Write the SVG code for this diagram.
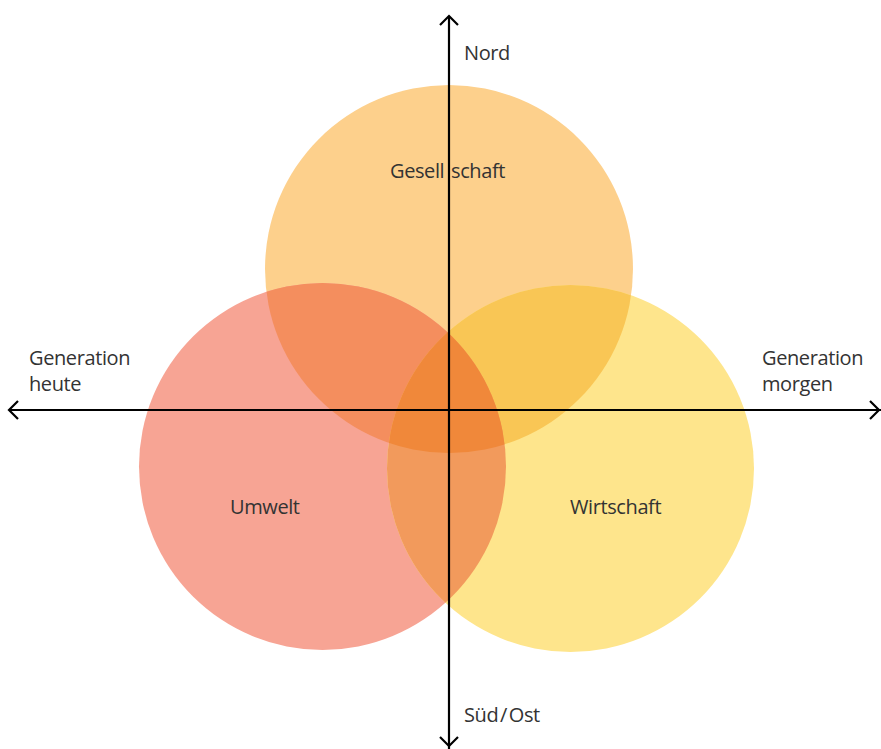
<svg xmlns="http://www.w3.org/2000/svg" width="881" height="749" viewBox="0 0 881 749">
<style>
text{font-family:"Open Sans","Noto Sans","Liberation Sans",sans-serif;font-size:20px;fill:#333;letter-spacing:-0.4px;}
.ax{stroke:#000;stroke-width:2.2;fill:none;}
</style>
<defs>
<clipPath id="cT"><circle cx="449" cy="269" r="184"/></clipPath>
<clipPath id="cL"><circle cx="322.5" cy="466.5" r="183.5"/></clipPath>
<clipPath id="cR"><circle cx="570.5" cy="468.5" r="183.5"/></clipPath>
</defs>
<rect width="881" height="749" fill="#fff"/>
<g id="gesellschaft">
<circle cx="449" cy="269" r="184" fill="#FDD08C"/>
</g>
<g id="umwelt">
<circle cx="322.5" cy="466.5" r="183.5" fill="#F7A494"/>
</g>
<g id="wirtschaft">
<circle cx="570.5" cy="468.5" r="183.5" fill="#FEE58C"/>
</g>
<g id="overlaps">
<g clip-path="url(#cT)"><circle cx="322.5" cy="466.5" r="183.5" fill="#F48E5E"/><circle cx="570.5" cy="468.5" r="183.5" fill="#F9C655"/></g>
<g clip-path="url(#cL)"><circle cx="570.5" cy="468.5" r="183.5" fill="#F29A5C"/></g>
<g clip-path="url(#cL)"><g clip-path="url(#cR)"><circle cx="449" cy="269" r="184" fill="#F0883A"/></g></g>
</g>
<g id="connectors">
<line class="ax" x1="449" y1="16" x2="449" y2="749"/>
<polyline class="ax" points="440,25 449,16 458,25"/>
<polyline class="ax" points="440,737 449,746 458,737"/>
<line class="ax" x1="9" y1="410" x2="881" y2="410"/>
<polyline class="ax" points="18,401 9,410 18,419"/>
<polyline class="ax" points="870,401 879,410 870,419"/>
</g>
<g id="labels">
<text x="464" y="60">Nord</text>
<text x="29" y="365">Generation</text>
<text x="29" y="391">heute</text>
<text x="762" y="365">Generation</text>
<text x="762" y="391">morgen</text>
<text x="464" y="722" word-spacing="-3">Süd / Ost</text>
<text x="390" y="178">Gesell</text>
<text x="451" y="178">schaft</text>
<text x="230" y="514">Umwelt</text>
<text x="570" y="514">Wirtschaft</text>
</g>
</svg>
